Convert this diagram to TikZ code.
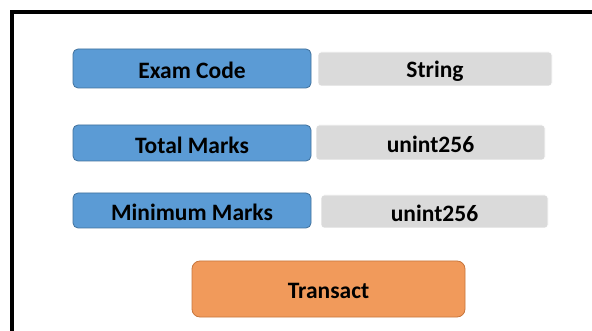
\documentclass[tikz,border=0pt]{standalone}
\usepackage{fontspec}
\setmainfont{Carlito}
\definecolor{fieldblue}{HTML}{5B9BD5}
\definecolor{fieldedge}{HTML}{41719C}
\definecolor{typegrey}{HTML}{DADADA}
\definecolor{btnorange}{HTML}{F19A5B}
\definecolor{btnedge}{HTML}{C8763C}
\begin{document}
\begin{tikzpicture}[x=1pt,y=-1pt,
  every node/.style={font=\bfseries\fontsize{23.5}{28}\selectfont, text=black, inner sep=0pt},
  field/.style={fill=fieldblue, draw=fieldedge, line width=0.8pt, rounded corners=5pt},
  typebox/.style={fill=typegrey, draw=white, line width=0.8pt, rounded corners=3pt},
  button/.style={fill=btnorange, draw=btnedge, line width=0.8pt, rounded corners=8pt},
  label/.style={midway, yshift=-2pt}]
\useasboundingbox (0,0) rectangle (592,331);
\fill[white] (0,0) rectangle (592,331);
% outer frame, cut by the page edges
\draw[line width=4pt] (12,331) -- (12,12) -- (592,12);
% field labels
\draw[field] (73,49) rectangle (311,88) node[label] (exam) {Exam Code};
\draw[field] (73,125) rectangle (311,161) node[label] (total) {Total Marks};
\draw[field] (73,193) rectangle (311,228) node[label] (minimum) {Minimum Marks};
% value types
\draw[typebox] (318,52) rectangle (552,86) node[label] (examtype) {String};
\draw[typebox] (316,125) rectangle (545,160) node[label] (totaltype) {unint256};
\draw[typebox] (321,195) rectangle (548,228) node[label] (mintype) {unint256};
% action button
\draw[button] (192,261) rectangle (465,317) node[label] (transact) {Transact};
\end{tikzpicture}
\end{document}
